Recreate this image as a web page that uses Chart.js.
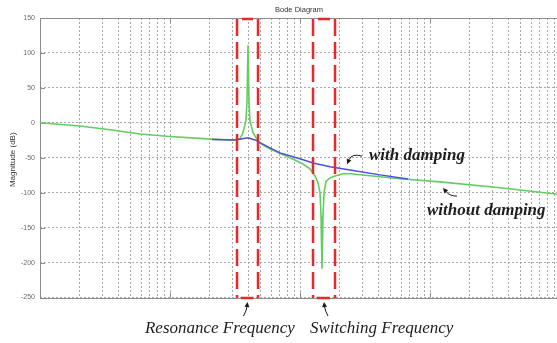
<!DOCTYPE html>
<html>
<head>
<meta charset="utf-8">
<title>Bode Diagram</title>
<script src="https://cdn.jsdelivr.net/npm/chart.js@4.4.1/dist/chart.umd.min.js"></script>
<style>
  html, body { margin: 0; padding: 0; background: #fff; overflow: hidden; }
  #wrap { width: 562px; height: 343px; }
</style>
</head>
<body>
<div id="wrap"><canvas id="bode" width="562" height="343"></canvas></div>
<script>
// Frequency axis (Hz, logarithmic)
const freqMin = 100;
const freqMax = 1000000;
const decades = [100, 1000, 10000, 100000, 1000000];
const minorSteps = [1, 2, 3, 4, 5, 6, 7, 8, 9];

// Magnitude axis ticks (dB)
const magTicks = [-250, -200, -150, -100, -50, 0, 50, 100, 150];

// Filter response without damping
const freqUndamped = [100, 203, 346, 588, 1000, 1926, 3050, 3456, 3640, 3840, 3910, 3981, 4050, 4120, 4350, 4750, 4920, 5880, 8380, 10540, 11940, 13050, 13760, 14250, 14510, 14760, 15030, 15300, 15850, 17010, 18580, 21420, 24240, 58780, 119400, 345500, 1000000];
const magUndamped  = [0, -4.5, -10, -16, -19.5, -23, -24.5, -23, -14, 3, 31, 111, 31, 3, -14, -26, -29, -37.5, -50, -59, -66, -76, -86, -100, -133, -209, -133, -100, -84, -79, -76, -73, -73, -80, -84.5, -93, -102.5];

// Filter response with damping
const freqDamped = [2104, 3162, 3981, 4506, 5673, 7017, 10000, 12590, 17010, 24240, 41250, 67730];
const magDamped  = [-24, -24.5, -21.5, -24.5, -34.5, -43, -51.5, -57.5, -63, -67.5, -74.5, -80.5];

// Highlighted frequency bands
const bandNames = ['Resonance Frequency', 'Switching Frequency'];
const bandLow   = [3277, 12590];
const bandHigh  = [4753, 18590];

const gridValues = decades.flatMap(d => minorSteps.map(m => m * d)).filter(v => v <= freqMax);

const toPoints = (xs, ys) => xs.map((x, i) => ({ x, y: ys[i] }));

const SANS = '"Liberation Sans", Arial, sans-serif';
const SERIF = '"Liberation Serif", "Times New Roman", serif';

function arrow(ctx, tail, ctrl, tip, head) {
  ctx.save();
  ctx.strokeStyle = '#1a1a1a';
  ctx.fillStyle = '#1a1a1a';
  ctx.lineWidth = 1;
  const ang = Math.atan2(tip[1] - ctrl[1], tip[0] - ctrl[0]);
  const baseX = tip[0] - Math.cos(ang) * head;
  const baseY = tip[1] - Math.sin(ang) * head;
  ctx.beginPath();
  ctx.moveTo(tail[0], tail[1]);
  ctx.quadraticCurveTo(ctrl[0], ctrl[1], baseX, baseY);
  ctx.stroke();
  const w = head * 0.5;
  ctx.beginPath();
  ctx.moveTo(tip[0], tip[1]);
  ctx.lineTo(baseX + Math.sin(ang) * w, baseY - Math.cos(ang) * w);
  ctx.lineTo(baseX - Math.sin(ang) * w, baseY + Math.cos(ang) * w);
  ctx.closePath();
  ctx.fill();
  ctx.restore();
}

const overlay = {
  id: 'bodeOverlay',
  beforeDatasetsDraw(chart) {
    const { ctx, chartArea: a, scales: { x, y } } = chart;
    ctx.save();
    // axes frame
    ctx.strokeStyle = '#8c8c8c';
    ctx.lineWidth = 1;
    ctx.strokeRect(Math.round(a.left) + 0.5, Math.round(a.top) + 0.5, Math.round(a.right - a.left), Math.round(a.bottom - a.top));
    // inward tick marks
    ctx.beginPath();
    decades.forEach(d => {
      const px = Math.round(x.getPixelForValue(d)) + 0.5;
      ctx.moveTo(px, a.top); ctx.lineTo(px, a.top + 5);
      ctx.moveTo(px, a.bottom); ctx.lineTo(px, a.bottom - 5);
    });
    magTicks.forEach(v => {
      const py = Math.round(y.getPixelForValue(v)) + 0.5;
      ctx.moveTo(a.left, py); ctx.lineTo(a.left + 5, py);
    });
    ctx.stroke();
    // title and axis label
    ctx.fillStyle = '#333';
    ctx.font = '7.5px ' + SANS;
    ctx.textAlign = 'center';
    ctx.textBaseline = 'alphabetic';
    ctx.fillText('Bode Diagram', (a.left + a.right) / 2 - 1, 12);
    ctx.translate(14.5, (a.top + a.bottom) / 2 + 2);
    ctx.rotate(-Math.PI / 2);
    ctx.font = '8px ' + SANS;
    ctx.fillText('Magnitude (dB)', 0, 0);
    ctx.restore();
  },
  afterDatasetsDraw(chart) {
    const { ctx, scales: { x, y } } = chart;
    ctx.save();
    ctx.strokeStyle = '#e8282a';
    ctx.lineWidth = 2.5;
    const top = y.getPixelForValue(150) + 1;
    const bottom = y.getPixelForValue(-250) + 0.5;
    bandLow.forEach((lo, i) => {
      const x0 = x.getPixelForValue(lo);
      const x1 = x.getPixelForValue(bandHigh[i]);
      ctx.setLineDash([17, 6]);
      ctx.beginPath();
      ctx.moveTo(x0, top); ctx.lineTo(x0, bottom);
      ctx.moveTo(x1, top); ctx.lineTo(x1, bottom);
      ctx.stroke();
      ctx.setLineDash([]);
      ctx.beginPath();
      ctx.moveTo(x0 + 5, top); ctx.lineTo(x1 - 5, top);
      ctx.moveTo(x0 + 4, bottom); ctx.lineTo(x1 - 5, bottom);
      ctx.stroke();
    });
    ctx.restore();
  },
  afterDraw(chart) {
    const { ctx, chartArea: a, scales: { x, y } } = chart;
    ctx.save();
    ctx.fillStyle = '#1e1e1e';
    ctx.textAlign = 'left';
    ctx.textBaseline = 'alphabetic';

    // curve callouts
    ctx.font = 'bold italic 17px ' + SERIF;
    const wx = x.getPixelForValue(33950), wy = y.getPixelForValue(-53.4);
    ctx.fillText('with damping', wx, wy);
    arrow(ctx, [wx - 7, wy - 4], [wx - 17, wy - 7], [wx - 22, wy + 4], 5);

    const ox = x.getPixelForValue(94820), oy = y.getPixelForValue(-132.1);
    ctx.fillText('without damping', ox, oy);
    arrow(ctx, [ox + 30, oy - 19], [ox + 23, oy - 19], [ox + 16, oy - 27], 5);

    // band captions below the axis
    ctx.font = 'italic 17px ' + SERIF;
    const labelX = [642, 11940];
    bandNames.forEach((name, i) => {
      ctx.fillText(name, x.getPixelForValue(labelX[i]), a.bottom + 35.5);
      const cx = (x.getPixelForValue(bandLow[i]) + x.getPixelForValue(bandHigh[i])) / 2;
      const dir = i === 0 ? -1 : 1;
      arrow(ctx, [cx + dir * 4, a.bottom + 18.5], [cx + dir * 1, a.bottom + 13], [cx, a.bottom + 4.5], 5);
    });
    ctx.restore();
  }
};

new Chart(document.getElementById('bode'), {
  type: 'line',
  data: {
    datasets: [
      {
        label: 'with damping',
        data: toPoints(freqDamped, magDamped),
        borderColor: '#4e4ee2',
        borderWidth: 1.5,
        pointRadius: 0,
        tension: 0
      },
      {
        label: 'without damping',
        data: toPoints(freqUndamped, magUndamped),
        borderColor: '#62cd62',
        borderWidth: 1.6,
        pointRadius: 0,
        tension: 0
      }
    ]
  },
  options: {
    responsive: false,
    animation: false,
    devicePixelRatio: 1,
    layout: { padding: { top: 18, right: 2, left: 0, bottom: 0 } },
    plugins: {
      legend: { display: false },
      tooltip: { enabled: false },
      title: { display: false }
    },
    scales: {
      x: {
        type: 'logarithmic',
        min: freqMin,
        max: freqMax,
        afterBuildTicks: s => { s.ticks = gridValues.map(v => ({ value: v })); },
        afterFit: s => { s.height = 45.5; },
        ticks: { display: false },
        grid: { color: '#a8a8a8', lineWidth: 1, drawTicks: false },
        border: { display: false, dash: [2, 2] }
      },
      y: {
        min: -250,
        max: 150,
        afterBuildTicks: s => { s.ticks = magTicks.map(v => ({ value: v })); },
        afterFit: s => { s.width = 40; },
        ticks: { color: '#6a6a6a', font: { family: SANS, size: 7 }, padding: 5 },
        grid: { color: '#a8a8a8', lineWidth: 1, drawTicks: false },
        border: { display: false, dash: [2, 2] }
      }
    }
  },
  plugins: [overlay]
});
</script>
</body>
</html>
